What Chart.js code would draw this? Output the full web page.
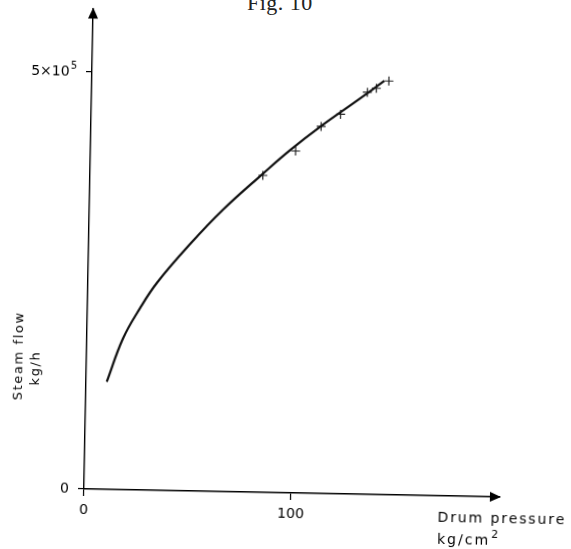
<!DOCTYPE html>
<html>
<head>
<meta charset="utf-8">
<script src="https://cdn.jsdelivr.net/npm/chart.js@4"></script>
<style>
  html, body { margin: 0; padding: 0; background: #fff; }
  body { width: 571px; height: 549px; overflow: hidden; position: relative; }
  #fig { position: absolute; left: 247px; top: -10px; font: 22px "Liberation Serif", "DejaVu Serif", serif; color: #222; letter-spacing: 0.5px; }
  #wrap { position: absolute; left: 0; top: 0; width: 571px; height: 549px;
          transform: rotate(1.1deg); transform-origin: 84px 489px; }
</style>
</head>
<body>
<div id="fig">Fig. 10</div>
<div id="wrap"><canvas id="steamChart" width="571" height="549"></canvas></div>
<script>
// fitted curve: drum pressure (kg/cm2) vs steam flow (kg/h)
var pressure  = [10, 17.4, 25.4, 33.4, 49, 64.6, 83.5, 96.5, 111, 129, 141.3];
var steamFlow = [129000, 181000, 218000, 249000, 296000, 338000, 382000, 411000, 440000, 473000, 496000];

// measured points (crosses)
var measPressure = [83.5, 99.1, 111.2, 120.5, 133.2, 137.5, 143.5];
var measFlow     = [380000, 410000, 440000, 455000, 482000, 487000, 496000];

var xTicks = [0, 100];
var yTicks = [0, 500000];
// tick label as [base, superscript]
var yTickLabels = [['0', ''], ['5×10', '5']];

function toPoints(xs, ys) {
    return xs.map(function (x, i) { return { x: x, y: ys[i] }; });
}

// arrow heads, y tick labels and axis titles
var axisExtras = {
    id: 'axisExtras',
    afterDraw: function (chart) {
        var ctx = chart.ctx;
        var a = chart.chartArea;
        var yScale = chart.scales.y;
        ctx.save();
        ctx.fillStyle = '#000';

        ctx.beginPath();
        ctx.moveTo(a.right + 1, a.bottom);
        ctx.lineTo(a.right - 10, a.bottom - 5);
        ctx.lineTo(a.right - 10, a.bottom + 5);
        ctx.closePath();
        ctx.fill();

        ctx.beginPath();
        ctx.moveTo(a.left, a.top - 1);
        ctx.lineTo(a.left - 5, a.top + 10);
        ctx.lineTo(a.left + 5, a.top + 10);
        ctx.closePath();
        ctx.fill();

        // y tick labels with a raised exponent
        ctx.textBaseline = 'middle';
        yTicks.forEach(function (v, i) {
            var py = yScale.getPixelForValue(v);
            var right = a.left - 15;
            var base = yTickLabels[i][0], sup = yTickLabels[i][1];
            ctx.font = '10px "DejaVu Sans"';
            var sw = sup ? ctx.measureText(sup).width + 1 : 0;
            if (sup) {
                ctx.textAlign = 'left';
                ctx.fillText(sup, right - sw + 1, py - 5);
            }
            ctx.font = '14px "DejaVu Sans"';
            ctx.textAlign = 'right';
            ctx.fillText(base, right - sw, py);
        });

        ctx.font = '14px "DejaVu Sans"';
        ctx.letterSpacing = '1.9px';
        ctx.textAlign = 'left';
        ctx.fillText('Drum pressure', a.right - 62, a.bottom + 22);
        ctx.letterSpacing = '2px';
        ctx.fillText('kg/cm', a.right - 62, a.bottom + 44);
        var w = ctx.measureText('kg/cm').width;
        ctx.font = '11px "DejaVu Sans"';
        ctx.letterSpacing = '0px';
        ctx.fillText('2', a.right - 62 + w + 1, a.bottom + 38);

        // rotated y title
        ctx.font = '13px "DejaVu Sans"';
        ctx.letterSpacing = '1.6px';
        ctx.textAlign = 'center';
        ctx.translate(17, 357);
        ctx.rotate(-Math.PI / 2);
        ctx.fillText('Steam flow', 0, 0);
        ctx.fillText('kg/h', -12, 17);
        ctx.restore();
    }
};

var ctx = document.getElementById('steamChart').getContext('2d');
var steamChart = new Chart(ctx, {
    type: 'line',
    data: {
        datasets: [{
            label: 'Steam flow',
            data: toPoints(pressure, steamFlow),
            borderColor: '#111',
            borderWidth: 2.2,
            pointRadius: 0,
            fill: false,
            tension: 0.4
        }, {
            label: 'Measured',
            data: toPoints(measPressure, measFlow),
            showLine: false,
            pointStyle: 'cross',
            pointRadius: 4.5,
            borderColor: '#222',
            pointBorderWidth: 1.2
        }]
    },
    options: {
        responsive: false,
        animation: false,
        layout: { padding: { top: 8.5, right: 71, left: 0, bottom: 0 } },
        plugins: {
            legend: { display: false },
            tooltip: { enabled: false }
        },
        scales: {
            x: {
                type: 'linear',
                min: 0,
                max: 201,
                afterBuildTicks: function (s) { s.ticks = xTicks.map(function (v) { return { value: v }; }); },
                afterFit: function (s) { s.height = 60; },
                grid: { drawOnChartArea: false, tickLength: 7, color: '#000', lineWidth: 1.2 },
                border: { color: '#000', width: 1.4 },
                ticks: {
                    color: '#000',
                    padding: 6,
                    maxRotation: 0,
                    font: { family: 'DejaVu Sans', size: 14 }
                }
            },
            y: {
                type: 'linear',
                min: 0,
                max: 576000,
                afterBuildTicks: function (s) { s.ticks = yTicks.map(function (v) { return { value: v }; }); },
                afterFit: function (s) { s.width = 84; },
                grid: { drawOnChartArea: false, tickLength: 6, color: '#000', lineWidth: 1.2 },
                border: { color: '#000', width: 1.4 },
                ticks: { display: false }
            }
        }
    },
    plugins: [axisExtras]
});
</script>
</body>
</html>
